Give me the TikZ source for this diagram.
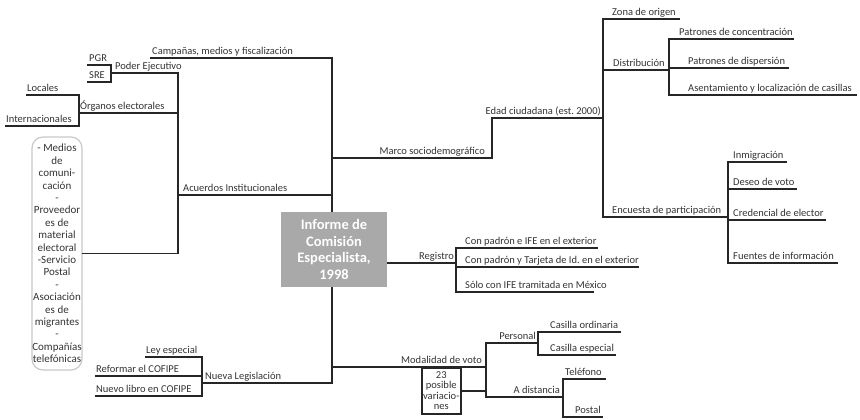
\documentclass[tikz,border=0pt]{standalone}
\usepackage{fontspec}
\setmainfont{Carlito}
\definecolor{linec}{HTML}{262626}
\definecolor{textc}{HTML}{333333}
\definecolor{boxgray}{HTML}{A9A9A9}
\definecolor{listgray}{HTML}{C8C8C8}
\tikzset{
 conn/.style={draw=linec,line width=1.6pt,line cap=rect},
 lbl/.style={text=textc,inner sep=0pt,font=\fontsize{10.5}{12}\selectfont},
 corebox/.style={fill=boxgray,text=white,font=\fontsize{14.5}{16.5}\selectfont\bfseries,align=center,minimum width=106pt,minimum height=75pt,inner sep=0pt},
 listbox/.style={draw=listgray,line width=1.2pt,rounded corners=11pt,minimum width=50pt,minimum height=233pt,inner sep=0pt,align=center,text=textc,font=\fontsize{11}{12.4}\selectfont},
 varbox/.style={draw=linec,line width=1.6pt,minimum width=39pt,minimum height=46pt,inner sep=0pt,align=center,text=textc,font=\fontsize{10.5}{10.5}\selectfont}
}
\newcommand\brn[7]{%
 \coordinate (#1a) at (#2,#4);
 \coordinate (#1b) at (#3,#4);
 \draw[conn] (#1a) -- (#1b);
 \node[lbl,anchor=#6] (#1) at (#5,#4-3.5) {#7};}
\begin{document}
\begin{tikzpicture}[x=1pt,y=-1pt]
\useasboundingbox (0,0) rectangle (860,420);
% left upper
\brn{camp}{151}{332}{58}{152}{base west}{Campañas, medios y fiscalización}
\brn{acu}{178}{332}{195}{183}{base west}{Acuerdos Institucionales}
\brn{pod}{111}{178}{73}{115}{base west}{Poder Ejecutivo}
\brn{pgr}{88}{111}{65}{89}{base west}{PGR}
\brn{sre}{88}{111}{82}{89}{base west}{SRE}
\brn{org}{79}{178}{113}{80}{base west}{Órganos electorales}
\brn{loc}{27}{79}{95}{27}{base west}{Locales}
\brn{int}{6}{79}{126}{6}{base west}{Internacionales}
% left lower
\brn{nue}{202}{332}{383}{205}{base west}{Nueva Legislación}
\brn{ley}{146}{202}{357}{146}{base west}{Ley especial}
\brn{ref}{96}{202}{376}{96}{base west}{Reformar el COFIPE}
\brn{lib}{96}{202}{396}{96}{base west}{Nuevo libro en COFIPE}
% right upper
\brn{mar}{332}{492}{158}{485}{base east}{Marco sociodemográfico}
\brn{eda}{492}{603}{118}{601}{base east}{Edad ciudadana (est.\ 2000)}
\brn{zon}{603}{679}{19}{612}{base west}{Zona de origen}
\brn{dis}{603}{669}{70}{613}{base west}{Distribución}
\brn{pco}{669}{793}{39}{679}{base west}{Patrones de concentración}
\brn{pdi}{669}{788}{68}{688}{base west}{Patrones de dispersión}
\brn{ase}{669}{856}{95}{688}{base west}{Asentamiento y localización de casillas}
\brn{enc}{603}{728}{217}{612}{base west}{Encuesta de participación}
\brn{inm}{728}{786}{162}{733}{base west}{Inmigración}
\brn{des}{728}{796}{189}{733}{base west}{Deseo de voto}
\brn{cre}{728}{825}{220}{733}{base west}{Credencial de elector}
\brn{fue}{728}{837}{263}{733}{base west}{Fuentes de información}
% registro
\brn{reg}{387}{456}{263}{454}{base east}{Registro}
\brn{cpa}{456}{597}{248}{465}{base west}{Con padrón e IFE en el exterior}
\brn{cpb}{456}{638}{267}{465}{base west}{Con padrón y Tarjeta de Id.\ en el exterior}
\brn{sol}{456}{593}{292}{465}{base west}{Sólo con IFE tramitada en México}
% modalidad
\brn{mod}{332}{486}{367}{482}{base east}{Modalidad de voto}
\brn{per}{486}{538}{343}{536}{base east}{Personal}
\brn{cor}{538}{620}{332}{550}{base west}{Casilla ordinaria}
\brn{ces}{538}{615}{355}{550}{base west}{Casilla especial}
\brn{dst}{486}{563}{397}{560}{base east}{A distancia}
\brn{tel}{563}{605}{379}{565}{base west}{Teléfono}
\brn{pos}{563}{602}{417}{575}{base west}{Postal}
% boxes
\node[listbox] (lista) at (57,253.5) {- Medios\\de\\comuni-\\cación\\-\\Proveedor\\es de\\material\\electoral\\-Servicio\\Postal\\-\\Asociación\\es de\\migrantes\\-\\Compañías\\telefónicas};
\node[varbox,anchor=north west] (var) at (421,367) {23\\posible\\variacio-\\nes};
% verticals
\draw[conn] (campb) -- (nueb);
\draw[conn] (podb) -- (podb |- lista.east);
\draw[conn] (lista.east) -- (podb |- lista.east);
\draw[conn] (pgrb) -- (sreb);
\draw[conn] (locb) -- (intb);
\draw[conn] (leyb) -- (libb);
\draw[conn] (marb) -- (edaa);
\draw[conn] (zona) -- (enca);
\draw[conn] (pcoa) -- (asea);
\draw[conn] (inma) -- (fuea);
\draw[conn] (cpaa) -- (sola);
\draw[conn] (pera) -- (dsta);
\draw[conn] (cora) -- (cesa);
\draw[conn] (tela) -- (posa);
\draw[conn] (var.east) -- (var.east -| pera);
% core
\node[corebox] (core) at (334,249.5) {Informe de\\Comisión\\Especialista,\\1998};
\end{tikzpicture}
\end{document}
